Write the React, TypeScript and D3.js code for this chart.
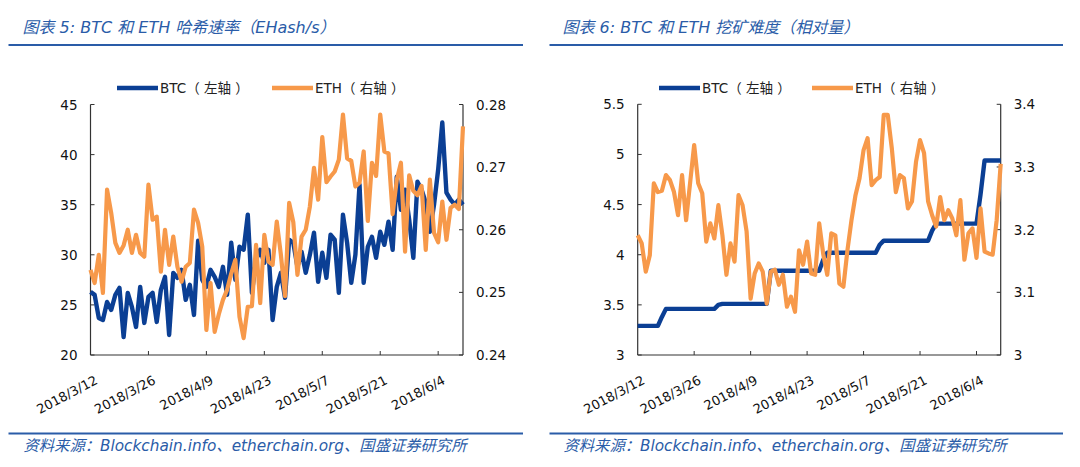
import React from "react";
import * as d3 from "d3";

// ---------- DATA ----------
const START_DATE = "2018/3/12";
const TICK_LABELS = ["2018/3/12", "2018/3/26", "2018/4/9", "2018/4/23", "2018/5/7", "2018/5/21", "2018/6/4"];

// Chart 5: hash rate (BTC left axis EHash/s, ETH right axis)
const BTC_HASH = [
  26.3, 26.0, 23.7, 23.5, 25.3, 24.5, 26.0, 26.7, 21.8, 26.2,
  24.8, 22.8, 26.8, 23.2, 25.8, 26.2, 23.3, 26.5, 27.8, 22.0,
  28.2, 27.7, 28.5, 25.5, 27.0, 24.0, 31.4, 27.5, 26.8, 28.5,
  27.8, 26.8, 28.8, 26.0, 31.2, 27.5, 30.8, 30.5, 34.0, 26.2,
  29.5, 30.5, 29.2, 30.5, 23.5, 26.8, 28.2, 25.7, 31.5, 31.2,
  28.8, 30.3, 28.2, 30.0, 32.2, 27.3, 30.2, 27.7, 32.0, 31.5,
  26.2, 34.0, 31.2, 27.2, 30.0, 37.0, 27.2, 30.8, 31.8, 29.7,
  32.3, 31.0, 33.3, 30.5, 37.8, 34.5, 36.5, 33.5, 29.7, 37.3,
  36.5, 35.2, 32.3, 35.0, 38.5, 43.2, 36.2, 35.5, 35.0, 35.5,
  35.0,
];
const ETH_HASH = [
  0.2536, 0.2515, 0.2560, 0.2499, 0.2664, 0.2627, 0.2579, 0.2563, 0.2575, 0.2600,
  0.2563, 0.2592, 0.2563, 0.2557, 0.2672, 0.2616, 0.2621, 0.2533, 0.2600, 0.2544,
  0.2589, 0.2541, 0.2517, 0.2541, 0.2547, 0.2632, 0.2611, 0.2573, 0.2440, 0.2515,
  0.2437, 0.2465, 0.2488, 0.2504, 0.2530, 0.2552, 0.2461, 0.2427, 0.2477, 0.2478,
  0.2576, 0.2483, 0.2592, 0.2549, 0.2544, 0.2613, 0.2560, 0.2494, 0.2643, 0.2612,
  0.2528, 0.2589, 0.2600, 0.2637, 0.2699, 0.2648, 0.2748, 0.2676, 0.2685, 0.2693,
  0.2712, 0.2784, 0.2714, 0.2710, 0.2669, 0.2675, 0.2725, 0.2614, 0.2707, 0.2686,
  0.2784, 0.2725, 0.2722, 0.2625, 0.2680, 0.2707, 0.2565, 0.2687, 0.2662, 0.2655,
  0.2670, 0.2568, 0.2680, 0.2595, 0.2580, 0.2645, 0.2584, 0.2635, 0.2640, 0.2633,
  0.2765,
];

// Chart 6: mining difficulty (relative)
const BTC_DIFF = [
  3.29, 3.29, 3.29, 3.29, 3.29, 3.29, 3.38, 3.46, 3.46, 3.46,
  3.46, 3.46, 3.46, 3.46, 3.46, 3.46, 3.46, 3.46, 3.46, 3.46,
  3.50, 3.51, 3.51, 3.51, 3.51, 3.51, 3.51, 3.51, 3.51, 3.51,
  3.51, 3.51, 3.51, 3.84, 3.84, 3.84, 3.84, 3.84, 3.84, 3.84,
  3.84, 3.84, 3.84, 3.84, 3.84, 3.84, 3.95, 4.02, 4.02, 4.02,
  4.02, 4.02, 4.02, 4.02, 4.02, 4.02, 4.02, 4.02, 4.02, 4.02,
  4.10, 4.14, 4.14, 4.14, 4.14, 4.14, 4.14, 4.14, 4.14, 4.14,
  4.14, 4.14, 4.14, 4.24, 4.31, 4.31, 4.31, 4.31, 4.31, 4.31,
  4.31, 4.31, 4.31, 4.31, 4.31, 4.60, 4.94, 4.94, 4.94, 4.94,
  4.94,
];
const ETH_DIFF = [
  3.191, 3.178, 3.133, 3.159, 3.274, 3.260, 3.262, 3.287, 3.279, 3.260,
  3.223, 3.287, 3.215, 3.275, 3.335, 3.274, 3.258, 3.181, 3.210, 3.186,
  3.239, 3.191, 3.128, 3.178, 3.149, 3.255, 3.239, 3.197, 3.090, 3.130,
  3.146, 3.133, 3.082, 3.133, 3.136, 3.112, 3.128, 3.077, 3.093, 3.069,
  3.167, 3.144, 3.181, 3.130, 3.128, 3.210, 3.161, 3.128, 3.194, 3.191,
  3.114, 3.109, 3.167, 3.215, 3.255, 3.282, 3.327, 3.346, 3.271, 3.279,
  3.284, 3.383, 3.383, 3.330, 3.260, 3.287, 3.282, 3.234, 3.245, 3.308,
  3.343, 3.322, 3.245, 3.223, 3.205, 3.252, 3.215, 3.231, 3.218, 3.191,
  3.247, 3.152, 3.194, 3.202, 3.155, 3.234, 3.165, 3.162, 3.160, 3.215,
  3.305,
];

const HASH_LEFT_TICKS = [20, 25, 30, 35, 40, 45];
const HASH_RIGHT_TICKS = [0.24, 0.25, 0.26, 0.27, 0.28];
const DIFF_LEFT_TICKS = [3, 3.5, 4, 4.5, 5, 5.5];
const DIFF_RIGHT_TICKS = [3, 3.1, 3.2, 3.3, 3.4];

const TITLE_5 = "图表 5:  BTC 和 ETH 哈希速率（EHash/s）";
const TITLE_6 = "图表 6:  BTC 和 ETH 挖矿难度（相对量）";
const SOURCE = "资料来源：Blockchain.info、etherchain.org、国盛证券研究所";
const LEGEND_BTC = "BTC（ 左轴 ）";
const LEGEND_ETH = "ETH（ 右轴 ）";

// ---------- STYLE ----------
const BLUE = "#0b3f94";
const ORANGE = "#f7994a";
const HEAD_BLUE = "#2a5ca8";
const AXIS = "#333333";
const FONT = "'DejaVu Sans', Verdana, sans-serif";
const CJK = "'DejaVu Sans', 'Noto Sans CJK SC', sans-serif";

const parseDate = d3.timeParse("%Y/%m/%d");

type PanelProps = {
  plotLeft: number;
  plotRight: number;
  plotTop: number;
  plotBottom: number;
  leftDomain: [number, number];
  rightDomain: [number, number];
  leftTicks: number[];
  rightTicks: number[];
  leftFmt: (v: number) => string;
  rightFmt: (v: number) => string;
  btc: number[];
  eth: number[];
  title: string;
  titleX: number;
  ruleX0: number;
  ruleX1: number;
  legendBtcX: number;
  legendEthX: number;
};

function Panel(p: PanelProps) {
  const start = parseDate(START_DATE) as Date;
  const dates = p.btc.map((_, i) => d3.timeDay.offset(start, i));
  const x = d3
    .scaleTime()
    .domain([start, dates[dates.length - 1]])
    .range([p.plotLeft, p.plotRight]);
  const yL = d3.scaleLinear().domain(p.leftDomain).range([p.plotBottom, p.plotTop]);
  const yR = d3.scaleLinear().domain(p.rightDomain).range([p.plotBottom, p.plotTop]);

  const btcLine = d3
    .line<number>()
    .x((_, i) => x(dates[i]))
    .y((v) => yL(v))
    .curve(d3.curveLinear);
  const ethLine = d3
    .line<number>()
    .x((_, i) => x(dates[i]))
    .y((v) => yR(v))
    .curve(d3.curveLinear);

  const tickDates = TICK_LABELS.map((t) => parseDate(t) as Date);
  const legendY = 88;

  return (
    <g>
      {/* title */}
      <text
        x={p.titleX}
        y={27}
        fontFamily={CJK}
        fontStyle="italic"
        fontSize={16}
        fill={HEAD_BLUE}
        dominantBaseline="central"
      >
        {p.title}
      </text>
      <line x1={p.ruleX0} x2={p.ruleX1} y1={45} y2={45} stroke={HEAD_BLUE} strokeWidth={2} />

      {/* legend */}
      <line x1={p.legendBtcX} x2={p.legendBtcX + 41} y1={legendY} y2={legendY} stroke={BLUE} strokeWidth={4.5} />
      <text x={p.legendBtcX + 43} y={legendY} fontFamily={CJK} fontSize={13.5} fill="#222" dominantBaseline="central">
        {LEGEND_BTC}
      </text>
      <line x1={p.legendEthX} x2={p.legendEthX + 41} y1={legendY} y2={legendY} stroke={ORANGE} strokeWidth={4.5} />
      <text x={p.legendEthX + 43} y={legendY} fontFamily={CJK} fontSize={13.5} fill="#222" dominantBaseline="central">
        {LEGEND_ETH}
      </text>

      {/* axes */}
      <line x1={p.plotLeft} x2={p.plotLeft} y1={p.plotTop} y2={p.plotBottom} stroke={AXIS} strokeWidth={1.2} />
      <line x1={p.plotRight} x2={p.plotRight} y1={p.plotTop} y2={p.plotBottom} stroke={AXIS} strokeWidth={1.2} />
      <line x1={p.plotLeft} x2={p.plotRight} y1={p.plotBottom} y2={p.plotBottom} stroke={AXIS} strokeWidth={1.2} />

      {p.leftTicks.map((t) => (
        <g key={"l" + t}>
          <line x1={p.plotLeft} x2={p.plotLeft + 4} y1={yL(t)} y2={yL(t)} stroke={AXIS} strokeWidth={1} />
          <text
            x={p.plotLeft - 13}
            y={yL(t)}
            textAnchor="end"
            dominantBaseline="central"
            fontFamily={FONT}
            fontSize={13.5}
            fill="#111"
          >
            {p.leftFmt(t)}
          </text>
        </g>
      ))}
      {p.rightTicks.map((t) => (
        <g key={"r" + t}>
          <line x1={p.plotRight - 4} x2={p.plotRight} y1={yR(t)} y2={yR(t)} stroke={AXIS} strokeWidth={1} />
          <text
            x={p.plotRight + 13}
            y={yR(t)}
            textAnchor="start"
            dominantBaseline="central"
            fontFamily={FONT}
            fontSize={13.5}
            fill="#111"
          >
            {p.rightFmt(t)}
          </text>
        </g>
      ))}
      {tickDates.map((d, i) => (
        <g key={"x" + i}>
          {i > 0 && (
            <line x1={x(d)} x2={x(d)} y1={p.plotBottom} y2={p.plotBottom - 4} stroke={AXIS} strokeWidth={1} />
          )}
          <text
            transform={`translate(${x(d) + 8},${p.plotBottom + 28}) rotate(-28)`}
            textAnchor="end"
            fontFamily={FONT}
            fontSize={13}
            fill="#111"
          >
            {TICK_LABELS[i]}
          </text>
        </g>
      ))}

      {/* series */}
      <path d={btcLine(p.btc) || ""} fill="none" stroke={BLUE} strokeWidth={4.4} strokeLinejoin="round" />
      <path d={ethLine(p.eth) || ""} fill="none" stroke={ORANGE} strokeWidth={4.2} strokeLinejoin="round" />

      {/* footer */}
      <line x1={p.ruleX0} x2={p.ruleX1} y1={433.5} y2={433.5} stroke={HEAD_BLUE} strokeWidth={2} />
      <text
        x={p.titleX + 1}
        y={446}
        fontFamily={CJK}
        fontStyle="italic"
        fontSize={15.3}
        fill={HEAD_BLUE}
        dominantBaseline="central"
      >
        {SOURCE}
      </text>
    </g>
  );
}

export default function App() {
  return (
    <svg
      width={1080}
      height={467}
      viewBox="0 0 1080 467"
      style={{ position: "absolute", left: 0, top: 0, background: "#fff" }}
    >
      <rect x={0} y={0} width={1080} height={467} fill="#fff" />
      <Panel
        plotLeft={90.5}
        plotRight={463}
        plotTop={104.5}
        plotBottom={355}
        leftDomain={[20, 45]}
        rightDomain={[0.24, 0.28]}
        leftTicks={HASH_LEFT_TICKS}
        rightTicks={HASH_RIGHT_TICKS}
        leftFmt={(v) => String(v)}
        rightFmt={(v) => v.toFixed(2)}
        btc={BTC_HASH}
        eth={ETH_HASH}
        title={TITLE_5}
        titleX={22.5}
        ruleX0={8.5}
        ruleX1={523}
        legendBtcX={117}
        legendEthX={272}
      />
      <Panel
        plotLeft={637.7}
        plotRight={1000.7}
        plotTop={104.3}
        plotBottom={355}
        leftDomain={[3, 5.5]}
        rightDomain={[3, 3.4]}
        leftTicks={DIFF_LEFT_TICKS}
        rightTicks={DIFF_RIGHT_TICKS}
        leftFmt={(v) => String(v)}
        rightFmt={(v) => String(v)}
        btc={BTC_DIFF}
        eth={ETH_DIFF}
        title={TITLE_6}
        titleX={562.5}
        ruleX0={549.5}
        ruleX1={1063}
        legendBtcX={659}
        legendEthX={812}
      />
    </svg>
  );
}
